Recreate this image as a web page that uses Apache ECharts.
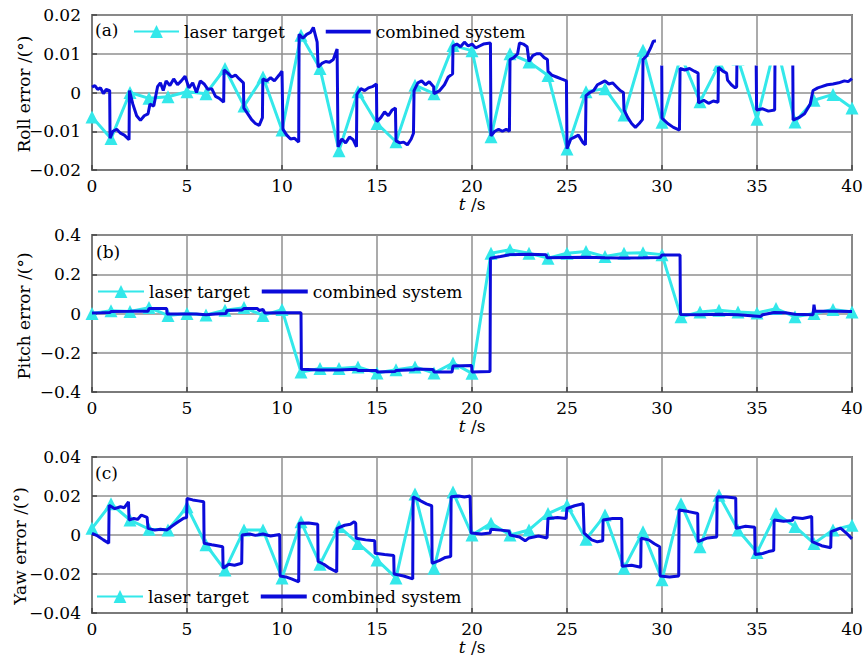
<!DOCTYPE html>
<html><head><meta charset="utf-8">
<script src="https://cdn.jsdelivr.net/npm/echarts@6/dist/echarts.min.js"></script>
<style>html,body{margin:0;padding:0;background:#fff}#c{width:864px;height:661px}</style>
</head><body><div id="c"></div>
<script>
// ---------- data ----------
const timeTicks = [0,1,2,3,4,5,6,7,8,9,10,11,12,13,14,15,16,17,18,19,20,21,22,23,24,25,26,27,28,29,30,31,32,33,34,35,36,37,38,39,40];

const rollLaser = [-0.0063,-0.0119,0.0000,-0.0015,-0.0011,0.0002,-0.0003,0.0062,-0.0035,0.0040,-0.0097,0.0148,0.0062,-0.0150,0.0002,-0.0080,-0.0127,0.0019,-0.0003,0.0121,0.0108,-0.0114,0.0100,0.0079,0.0044,-0.0146,0.0002,0.0010,-0.0058,0.0109,-0.0077,0.0095,-0.0024,0.0072,0.0086,-0.0069,0.0130,-0.0076,-0.0020,-0.0005,-0.0040];

const rollCombined = [
[0.00,0.0014],[0.15,0.0018],[0.30,0.0008],[0.45,0.0012],[0.60,-0.0003],[0.75,0.0008],[0.93,0.0005],
[0.95,-0.0118],[1.10,-0.0100],[1.30,-0.0095],[1.50,-0.0105],[1.70,-0.0110],[1.95,-0.0122],
[1.97,0.0005],[2.15,-0.0030],[2.35,-0.0060],[2.55,-0.0072],[2.75,-0.0060],[2.95,-0.0055],
[3.05,-0.0030],[3.25,-0.0035],[3.45,0.0015],[3.60,0.0025],[3.75,0.0005],[3.90,0.0030],
[4.10,0.0018],[4.30,0.0035],[4.50,0.0020],[4.70,0.0030],[4.90,0.0042],[5.10,0.0012],[5.30,0.0025],
[5.50,0.0000],[5.70,0.0030],[5.90,0.0022],[6.10,0.0008],[6.30,0.0010],[6.50,-0.0010],[6.70,-0.0015],[6.93,-0.0025],
[6.95,0.0058],[7.15,0.0050],[7.35,0.0040],[7.55,0.0045],[7.75,0.0035],[7.97,0.0025],
[7.99,-0.0040],[8.20,-0.0055],[8.40,-0.0070],[8.60,-0.0080],[8.80,-0.0085],[8.97,-0.0065],
[8.99,0.0035],[9.20,0.0030],[9.40,0.0038],[9.60,0.0030],[9.85,0.0045],[10.00,0.0055],
[10.05,-0.0095],[10.25,-0.0110],[10.45,-0.0120],[10.65,-0.0118],[10.88,-0.0128],
[10.90,0.0150],[11.10,0.0140],[11.30,0.0150],[11.50,0.0155],[11.65,0.0168],[11.85,0.0130],
[11.90,0.0065],[12.10,0.0075],[12.30,0.0080],[12.50,0.0078],[12.70,0.0085],[12.90,0.0112],
[12.95,-0.0140],[13.15,-0.0120],[13.35,-0.0130],[13.55,-0.0115],[13.75,-0.0122],[13.92,-0.0140],
[13.94,-0.0005],[14.15,0.0010],[14.35,0.0005],[14.55,0.0012],[14.75,0.0015],[14.97,0.0022],
[14.99,-0.0075],[15.20,-0.0065],[15.40,-0.0050],[15.60,-0.0060],[15.80,-0.0045],[15.97,-0.0040],
[16.00,-0.0125],[16.20,-0.0130],[16.40,-0.0128],[16.60,-0.0135],[16.80,-0.0120],[16.92,-0.0105],
[16.95,0.0005],[17.15,0.0025],[17.35,0.0030],[17.55,0.0020],[17.75,0.0028],[17.98,0.0015],
[18.00,-0.0003],[18.30,0.0005],[18.55,0.0020],[18.75,0.0040],[18.98,0.0048],
[19.00,0.0120],[19.20,0.0125],[19.40,0.0118],[19.60,0.0130],[19.80,0.0120],[20.00,0.0125],
[20.20,0.0115],[20.40,0.0120],[20.60,0.0125],[20.97,0.0128],
[21.00,-0.0112],[21.20,-0.0100],[21.40,-0.0095],[21.60,-0.0100],[21.80,-0.0095],[21.97,-0.0100],
[22.00,0.0085],[22.20,0.0090],[22.40,0.0100],[22.50,0.0128],[22.70,0.0125],[22.90,0.0118],
[23.00,0.0080],[23.20,0.0095],[23.40,0.0100],[23.60,0.0100],[23.80,0.0090],[23.97,0.0085],
[24.00,0.0055],[24.20,0.0045],[24.45,0.0040],[24.70,0.0035],[24.97,0.0030],
[25.00,-0.0145],[25.20,-0.0120],[25.40,-0.0115],[25.60,-0.0110],[25.85,-0.0130],[25.97,-0.0135],
[26.00,-0.0008],[26.20,0.0000],[26.40,0.0005],[26.60,0.0020],[26.80,0.0025],[27.00,0.0030],
[27.20,0.0022],[27.40,0.0025],[27.60,0.0015],[27.80,0.0005],[27.97,0.0000],
[28.00,-0.0045],[28.20,-0.0065],[28.40,-0.0080],[28.60,-0.0090],[28.80,-0.0080],[28.97,-0.0070],
[29.00,0.0085],[29.20,0.0095],[29.40,0.0115],[29.54,0.0132],[29.98,0.0135],
[30.00,-0.0066],[30.30,-0.0080],[30.60,-0.0090],[30.92,-0.0097],
[30.95,0.0062],[31.20,0.0058],[31.45,0.0062],[31.70,0.0055],[31.90,0.0050],
[31.92,-0.0027],[32.20,-0.0020],[32.45,-0.0028],[32.70,-0.0022],[32.95,-0.0025],
[32.97,0.0065],[33.20,0.0055],[33.40,0.0050],[33.45,0.0032],[33.65,0.0020],[33.85,0.0012],[33.93,0.0015],
[33.95,0.0110],[34.95,0.0110],
[34.98,-0.0045],[35.30,-0.0042],[35.60,-0.0048],[35.93,-0.0045],
[35.95,0.0110],[36.88,0.0110],
[36.90,-0.0071],[37.20,-0.0065],[37.50,-0.0055],[37.80,-0.0030],[37.95,0.0005],[38.20,0.0012],
[38.40,0.0015],[38.70,0.0020],[39.00,0.0022],[39.30,0.0025],[39.60,0.0030],[39.80,0.0028],[40.00,0.0036]
];

const pitchLaser = [0.000,0.014,0.010,0.030,-0.010,0.000,-0.008,0.017,0.030,-0.010,0.020,-0.298,-0.280,-0.280,-0.272,-0.303,-0.286,-0.272,-0.303,-0.252,-0.305,0.307,0.325,0.307,0.282,0.307,0.316,0.290,0.307,0.310,0.300,-0.017,0.008,0.017,0.008,0.003,0.025,-0.017,0.000,0.020,0.008];

const pitchCombined = [
[0.00,0.003],[0.50,0.004],[0.95,0.005],[1.00,0.010],[2.00,0.011],[2.95,0.012],
[3.00,0.025],[3.50,0.026],[3.93,0.025],[3.95,-0.002],[4.80,-0.002],[5.50,-0.003],[6.00,-0.006],
[6.50,-0.002],[7.05,0.000],[7.10,0.015],[7.90,0.018],[8.00,0.026],[8.70,0.025],[8.80,0.015],
[9.00,0.020],[9.10,0.003],[10.00,0.004],[11.00,0.004],
[11.02,-0.284],[12.00,-0.288],[13.00,-0.288],[13.90,-0.284],[14.00,-0.290],[14.98,-0.290],
[15.00,-0.298],[15.95,-0.296],[16.00,-0.290],[16.95,-0.286],[17.00,-0.283],[17.95,-0.285],
[18.00,-0.298],[18.95,-0.298],[19.00,-0.268],[19.98,-0.265],[20.00,-0.298],[20.95,-0.295],
[20.97,0.282],[21.50,0.290],[22.00,0.300],[23.00,0.302],[23.90,0.300],[23.95,0.284],
[25.00,0.285],[26.00,0.286],[27.00,0.284],[28.00,0.283],[29.00,0.284],[29.90,0.285],
[30.00,0.298],[30.95,0.298],
[30.97,-0.005],[32.00,-0.006],[33.00,-0.004],[34.00,-0.006],[35.20,-0.015],[35.30,-0.006],
[35.90,0.005],[36.50,0.004],[37.00,-0.004],[37.95,-0.006],[38.00,0.045],[38.05,0.012],
[39.00,0.012],[40.00,0.010]
];

const yawLaser = [0.0034,0.0160,0.0077,0.0030,0.0026,0.0145,-0.0050,-0.0180,0.0026,0.0026,-0.0220,0.0068,-0.0150,0.0043,-0.0043,-0.0128,-0.0220,0.0210,-0.0170,0.0220,0.0000,0.0060,0.0000,0.0026,0.0110,0.0153,-0.0022,0.0102,-0.0170,0.0017,-0.0230,0.0160,-0.0060,0.0204,0.0026,-0.0090,0.0110,0.0043,-0.0043,0.0026,0.0050];

const yawCombined = [
[0.00,0.0008],[0.30,-0.0005],[0.60,-0.0025],[0.88,-0.0042],
[0.90,0.0153],[1.20,0.0135],[1.50,0.0145],[1.70,0.0140],[1.92,0.0170],
[1.95,0.0077],[2.20,0.0085],[2.40,0.0080],[2.60,0.0102],[2.90,0.0090],
[2.95,0.0034],[3.30,0.0025],[3.60,0.0030],[3.95,0.0026],[4.20,0.0045],[4.50,0.0065],[4.80,0.0085],[4.98,0.0090],
[5.00,0.0187],[5.30,0.0180],[5.60,0.0175],[5.88,0.0170],
[5.90,-0.0042],[6.30,-0.0050],[6.60,-0.0055],[6.88,-0.0060],
[6.90,-0.0170],[7.20,-0.0150],[7.50,-0.0155],[7.88,-0.0145],
[7.90,0.0000],[8.30,0.0005],[8.60,-0.0002],[9.00,0.0005],[9.40,-0.0005],[9.88,0.0003],
[9.90,-0.0210],[10.20,-0.0215],[10.50,-0.0225],[10.88,-0.0240],
[10.90,0.0060],[11.40,0.0062],[11.88,0.0055],
[11.90,-0.0136],[12.20,-0.0150],[12.50,-0.0170],[12.88,-0.0190],
[12.90,0.0034],[13.30,0.0050],[13.60,0.0055],[13.80,0.0068],[13.88,0.0060],
[13.90,-0.0017],[14.40,-0.0025],[14.88,-0.0030],
[14.90,-0.0094],[15.40,-0.0100],[15.88,-0.0105],
[15.90,-0.0200],[16.40,-0.0210],[16.88,-0.0225],
[16.90,0.0196],[17.30,0.0175],[17.60,0.0160],[17.88,0.0150],
[17.90,-0.0145],[18.30,-0.0130],[18.60,-0.0115],[18.88,-0.0110],
[18.90,0.0196],[19.30,0.0200],[19.60,0.0195],[19.90,0.0200],
[19.95,0.0010],[20.50,0.0005],[20.95,0.0010],[21.00,0.0030],[21.50,0.0025],[21.95,0.0020],
[22.00,0.0000],[22.50,-0.0010],[22.80,-0.0030],[23.00,-0.0015],[23.50,-0.0005],[23.95,-0.0015],
[24.00,0.0085],[24.50,0.0090],[24.95,0.0085],
[25.00,0.0136],[25.40,0.0150],[25.85,0.0160],
[25.90,0.0010],[26.30,-0.0025],[26.60,-0.0035],[26.88,-0.0030],
[26.90,0.0077],[27.40,0.0085],[27.88,0.0085],
[27.90,-0.0160],[28.40,-0.0155],[28.88,-0.0165],
[28.90,-0.0017],[29.30,-0.0025],[29.60,-0.0045],[29.88,-0.0060],
[29.90,-0.0210],[30.40,-0.0215],[30.88,-0.0210],
[30.90,0.0128],[31.40,0.0120],[31.88,0.0110],
[31.90,-0.0034],[32.40,-0.0015],[32.88,-0.0010],
[32.90,0.0196],[33.40,0.0195],[33.88,0.0190],
[33.90,0.0034],[34.40,0.0045],[34.88,0.0040],
[34.90,-0.0100],[35.30,-0.0095],[35.60,-0.0085],[35.88,-0.0080],
[35.90,0.0077],[36.40,0.0070],[36.88,0.0075],[36.90,0.0090],[37.40,0.0085],[37.88,0.0095],
[37.90,-0.0034],[38.40,-0.0055],[38.88,-0.0065],
[38.90,0.0017],[39.40,0.0035],[39.70,0.0010],[40.00,-0.0020]
];

const yTitles = ['Roll error /(\u00b0)', 'Pitch error /(\u00b0)', 'Yaw error /(\u00b0)'];
const panelTags = ['(a)', '(b)', '(c)'];

// occluding white area in panel (a) (data units)
const rollMaskStart = 29.68;
const rollMaskLevel = 0.007;

// ---------- chart ----------
const FONT = "'DejaVu Serif', serif";
const CYAN = '#33e8ea';
const BLUE = '#0b0bda';
const GRIDC = '#8f8f8f';
const chart = echarts.init(document.getElementById('c'), null, {renderer: 'svg'});

const grids = [
  {left: 92, top: 15, width: 760, height: 155},
  {left: 92, top: 235, width: 760, height: 157},
  {left: 92, top: 457, width: 760, height: 156}
].map(g => Object.assign(g, {show: true, borderColor: '#7a7a7a', borderWidth: 2, containLabel: false, outerBoundsMode: 'none'}));

function fmt(d) {
  return v => Math.abs(v) < 1e-9 ? '0' : (v < 0 ? '\u2212' : '') + Math.abs(v).toFixed(d);
}

function splitLine() { return {show: true, lineStyle: {color: GRIDC, width: 1.5, type: 'solid'}}; }
function tick() { return {show: true, inside: true, length: 5, lineStyle: {color: '#444', width: 1.5}}; }

const xAxes = [0,1,2].map(i => ({
  type: 'value', gridIndex: i, min: 0, max: 40, interval: 5,
  axisLine: {show: true, onZero: false, lineStyle: {color: '#7a7a7a', width: 2}},
  axisTick: tick(), splitLine: splitLine(),
  axisLabel: {fontFamily: FONT, fontSize: 17, color: '#000', margin: 7},
  name: '{i|t} /s', nameLocation: 'middle', nameGap: 25,
  nameTextStyle: {fontFamily: FONT, fontSize: 17, color: '#000',
    rich: {i: {fontFamily: FONT, fontSize: 17, fontStyle: 'italic', color: '#000'}}}
}));

const yDefs = [
  {min: -0.02, max: 0.02, interval: 0.01, d: 2},
  {min: -0.4, max: 0.4, interval: 0.2, d: 1},
  {min: -0.04, max: 0.04, interval: 0.02, d: 2}
];
const yAxes = yDefs.map((y, i) => ({
  type: 'value', gridIndex: i, min: y.min, max: y.max, interval: y.interval,
  axisLine: {show: true, onZero: false, lineStyle: {color: '#7a7a7a', width: 2}},
  axisTick: tick(), splitLine: splitLine(),
  axisLabel: {fontFamily: FONT, fontSize: 17, color: '#000', margin: 11, formatter: fmt(y.d)}
}));

function laserSeries(i, vals) {
  return {
    name: 'laser target', type: 'line', xAxisIndex: i, yAxisIndex: i,
    data: timeTicks.map((t, k) => [t, vals[k]]),
    symbol: 'triangle', symbolSize: 13, showSymbol: true,
    lineStyle: {color: CYAN, width: 3}, itemStyle: {color: CYAN},
    animation: false, z: 2
  };
}
function combinedSeries(i, pts) {
  return {
    name: 'combined system', type: 'line', xAxisIndex: i, yAxisIndex: i,
    data: pts, showSymbol: false, symbol: 'none',
    lineStyle: {color: BLUE, width: 3}, itemStyle: {color: BLUE},
    animation: false, z: 3
  };
}

const legendBase = {
  orient: 'horizontal', padding: 0, itemHeight: 16,
  textStyle: {fontFamily: FONT, fontSize: 17, color: '#000'},
  data: [{name: 'laser target'},
         {name: 'combined system', icon: 'path://M0,0L48,0L48,4L0,4Z', itemStyle: {color: BLUE}}],
  selectedMode: false
};

chart.setOption({
  animation: false,
  backgroundColor: '#fff',
  grid: grids,
  xAxis: xAxes,
  yAxis: yAxes,
  legend: [
    Object.assign({}, legendBase, {left: 133, top: 23, itemWidth: 45, itemGap: 41}),
    Object.assign({}, legendBase, {left: 97, top: 283, itemWidth: 46, itemGap: 12}),
    Object.assign({}, legendBase, {left: 96, top: 588, itemWidth: 46, itemGap: 12})
  ],
  series: [
    laserSeries(0, rollLaser), combinedSeries(0, rollCombined),
    laserSeries(1, pitchLaser), combinedSeries(1, pitchCombined),
    laserSeries(2, yawLaser), combinedSeries(2, yawCombined)
  ]
});

// panel tags, rotated y titles and the occluding area of panel (a)
const pA = chart.convertToPixel({gridIndex: 0}, [rollMaskStart, rollMaskLevel]);
const pTop = chart.convertToPixel({gridIndex: 0}, [40, 0.02]);
const g30 = chart.convertToPixel({gridIndex: 0}, [30, 0.01]);
const g35 = chart.convertToPixel({gridIndex: 0}, [35, 0.01]);
const gridStyle = {stroke: GRIDC, lineWidth: 1.5};
const titlePos = [[24, 94], [24, 316], [20, 546]];
const tagPos = [[95, 21], [96, 243], [95, 464]];

const gfx = [];
panelTags.forEach((t, i) => gfx.push({type: 'text', x: tagPos[i][0], y: tagPos[i][1], z: 60,
  style: {text: t, font: '17px ' + FONT, fill: '#000'}}));
yTitles.forEach((t, i) => gfx.push({type: 'text', x: titlePos[i][0], y: titlePos[i][1], rotation: Math.PI / 2, z: 60,
  style: {text: t, font: '17px ' + FONT, fill: '#000', align: 'center', verticalAlign: 'middle'}}));
gfx.push({type: 'rect', z: 50, silent: true,
  shape: {x: pA[0], y: pTop[1] + 1, width: pTop[0] - pA[0] - 1, height: pA[1] - pTop[1] - 1},
  style: {fill: '#fff'}});
gfx.push({type: 'line', z: 51, silent: true, shape: {x1: pA[0], y1: g30[1], x2: pTop[0] - 1, y2: g30[1]}, style: gridStyle});
gfx.push({type: 'line', z: 51, silent: true, shape: {x1: g30[0], y1: pTop[1] + 1, x2: g30[0], y2: pA[1]}, style: gridStyle});
gfx.push({type: 'line', z: 51, silent: true, shape: {x1: g35[0], y1: pTop[1] + 1, x2: g35[0], y2: pA[1]}, style: gridStyle});
chart.setOption({graphic: gfx});
</script>
</body></html>
